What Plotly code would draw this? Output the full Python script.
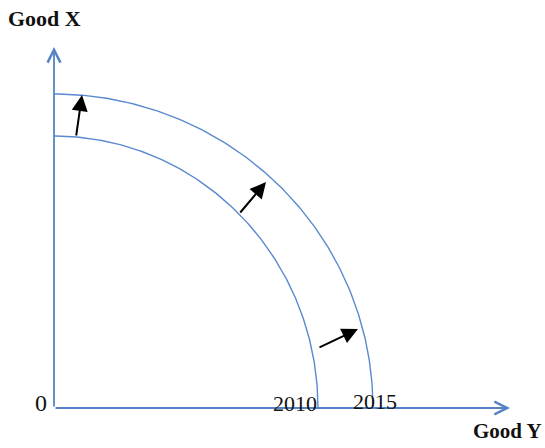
import numpy as np
import plotly.graph_objects as go

# ---- data (arbitrary units, origin at 0,0) ----
years = ["2010", "2015"]
good_y_max = [264, 319]   # horizontal intercepts of the PPFs
good_x_max = [272, 314]   # vertical intercepts of the PPFs

# shift arrows: (tail_y, tail_x) -> (head_y, head_x)
shift_tail_goody = [22, 185, 264]
shift_tail_goodx = [271, 194, 60]
shift_head_goody = [28, 212, 304]
shift_head_goodx = [313, 226, 79]

axis_len_goody = 456
axis_len_goodx = 361

axis_title_x = "Good X"
axis_title_y = "Good Y"
origin_label = "0"

BLUE = "#5A89CF"
AXBLUE = "#5584C6"
TXT = "#111111"
SERIF = "Liberation Serif, Times New Roman, serif"

fig = go.Figure()

t = np.linspace(0, np.pi / 2, 200)
for a, b in zip(good_y_max, good_x_max):
    fig.add_trace(go.Scatter(x=a * np.cos(t), y=b * np.sin(t), mode="lines",
                             line=dict(color=BLUE, width=1.4),
                             hoverinfo="skip", showlegend=False))

# axes with open arrowheads
fig.add_annotation(x=axis_len_goody, y=0, ax=0, ay=0, xref="x", yref="y",
                   axref="x", ayref="y", text="", showarrow=True,
                   arrowhead=5, arrowsize=1.4, arrowwidth=1.8, arrowcolor=AXBLUE)
fig.add_annotation(x=0, y=axis_len_goodx, ax=0, ay=0, xref="x", yref="y",
                   axref="x", ayref="y", text="", showarrow=True,
                   arrowhead=5, arrowsize=1.4, arrowwidth=1.8, arrowcolor=AXBLUE)

# shift arrows
for tx, ty, hx, hy in zip(shift_tail_goody, shift_tail_goodx, shift_head_goody, shift_head_goodx):
    fig.add_annotation(x=hx, y=hy, ax=tx, ay=ty, xref="x", yref="y",
                       axref="x", ayref="y", text="", showarrow=True,
                       arrowhead=2, arrowsize=1.6, arrowwidth=2, arrowcolor="#000000")

# labels
fig.add_annotation(x=-10, y=390, text="<b>%s</b>" % axis_title_x, showarrow=False,
                   font=dict(family=SERIF, size=22, color=TXT), borderpad=0)
fig.add_annotation(x=453, y=-23, text="<b>%s</b>" % axis_title_y, showarrow=False,
                   font=dict(family=SERIF, size=21, color=TXT), borderpad=0)
fig.add_annotation(x=-13, y=5, text=origin_label, showarrow=False,
                   font=dict(family=SERIF, size=24, color=TXT))
fig.add_annotation(x=241, y=5, text=years[0], showarrow=False,
                   font=dict(family=SERIF, size=22, color=TXT))
fig.add_annotation(x=321, y=7, text=years[1], showarrow=False,
                   font=dict(family=SERIF, size=22, color=TXT))

fig.update_layout(
    width=545, height=448, margin=dict(l=0, r=0, t=0, b=0),
    paper_bgcolor="white", plot_bgcolor="white",
    xaxis=dict(range=[-54, 491], visible=False, fixedrange=True),
    yaxis=dict(range=[-40, 408], visible=False, fixedrange=True),
    showlegend=False,
)

fig.write_html("out.html", config={"displayModeBar": False},
               post_script="document.body.style.margin='0';document.body.style.overflow='hidden';")
